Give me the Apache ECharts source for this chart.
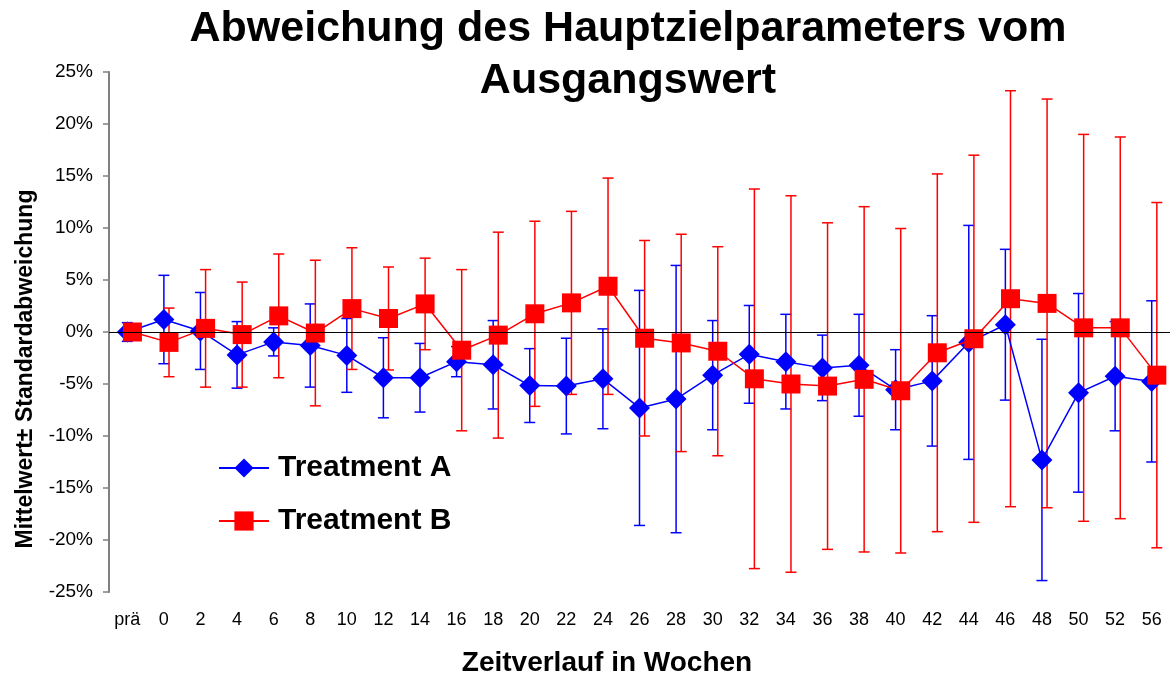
<!DOCTYPE html>
<html>
<head>
<meta charset="utf-8">
<script src="https://cdn.jsdelivr.net/npm/echarts@6/dist/echarts.min.js"></script>
<style>
html,body{margin:0;padding:0;background:#fff;}
#chart{width:1173px;height:684px;}
</style>
</head>
<body>
<div id="chart"></div>
<script>
const categories = ['prä','0','2','4','6','8','10','12','14','16','18','20','22','24','26','28','30','32','34','36','38','40','42','44','46','48','50','52','56'];
const yTicks = [-25,-20,-15,-10,-5,0,5,10,15,20,25];
// Treatment A: mean and standard deviation (%)
const meanA = [0, 1.2, 0.1, -2.2, -0.95, -1.3, -2.25, -4.4, -4.4, -2.85, -3.15, -5.15, -5.2, -4.5, -7.3, -6.45, -4.15, -2.15, -2.85, -3.45, -3.2, -5.55, -4.7, -1.0, 0.7, -12.3, -5.85, -4.25, -4.75];
const sdA   = [0.9, 4.25, 3.7, 3.2, 1.35, 4.0, 3.55, 3.85, 3.3, 1.45, 4.25, 3.55, 4.6, 4.8, 11.3, 12.85, 5.25, 4.7, 4.55, 3.15, 4.9, 3.85, 6.27, 11.25, 7.25, 11.6, 9.55, 5.25, 7.75];
// Treatment B: mean and standard deviation (%)
const meanB = [0, -1.0, 0.35, -0.25, 1.55, -0.1, 2.25, 1.3, 2.7, -1.75, -0.3, 1.75, 2.8, 4.4, -0.6, -1.05, -1.85, -4.5, -5.0, -5.2, -4.55, -5.65, -2.0, -0.65, 3.2, 2.75, 0.4, 0.4, -4.15];
const sdB   = [0.6, 3.3, 5.65, 5.05, 5.95, 7.0, 5.85, 4.95, 4.4, 7.75, 9.9, 8.9, 8.8, 10.4, 9.4, 10.45, 10.05, 18.25, 18.1, 15.7, 16.6, 15.6, 17.2, 17.65, 20.0, 19.65, 18.6, 18.35, 16.6];

const FONT = "'Liberation Sans', Arial, Helvetica, sans-serif";
const BLUE = '#0000ff', RED = '#ff0000';
const offA = 0, offB = 0.14; // small horizontal shift of series B within a category

function errSeries(name, mean, sd, off, color) {
  return {
    type: 'custom', name: name + ' SD', xAxisIndex: 1, yAxisIndex: 0, z: 1, silent: true,
    dimensions: ['x', 'm', 's'],
    encode: { x: 0, y: 1 },
    data: mean.map((m, i) => [i + off, m, sd[i]]),
    renderItem: function (params, api) {
      const x = api.value(0), m = api.value(1), s = api.value(2);
      const t = api.coord([x, m + s]);
      const b = api.coord([x, m - s]);
      const hw = 5.5;
      const st = { stroke: color, lineWidth: 1.5 };
      return { type: 'group', children: [
        { type: 'line', shape: { x1: t[0], y1: t[1], x2: b[0], y2: b[1] }, style: st },
        { type: 'line', shape: { x1: t[0] - hw, y1: t[1], x2: t[0] + hw, y2: t[1] }, style: st },
        { type: 'line', shape: { x1: b[0] - hw, y1: b[1], x2: b[0] + hw, y2: b[1] }, style: st }
      ]};
    }
  };
}

const chart = echarts.init(document.getElementById('chart'));
chart.setOption({
  animation: false,
  backgroundColor: '#ffffff',
  title: {
    text: 'Abweichung des Hauptzielparameters vom\nAusgangswert',
    left: 628, top: 3, padding: 0, textAlign: 'center',
    textStyle: { fontFamily: FONT, fontSize: 43, fontWeight: 'bold', color: '#000', lineHeight: 52 }
  },
  legend: {
    orient: 'vertical', left: 218, top: 453, padding: 0,
    itemWidth: 50, itemHeight: 24, itemGap: 23,
    data: ['Treatment A', 'Treatment B'],
    textStyle: { fontFamily: FONT, fontSize: 30, fontWeight: 'bold', color: '#000', padding: [0, 0, 0, 4] }
  },
  grid: { left: 109, right: 3, top: 72, bottom: 92 },
  xAxis: [
    {
      type: 'category', data: categories, boundaryGap: true,
      axisLine: { show: false }, axisTick: { show: false }, splitLine: { show: false },
      axisLabel: { fontFamily: FONT, fontSize: 18, color: '#000', margin: 19, interval: 0 },
      name: 'Zeitverlauf in Wochen', nameLocation: 'middle', nameGap: 57,
      nameTextStyle: { fontFamily: FONT, fontSize: 28, fontWeight: 'bold', color: '#000', padding: [0, 65, 0, 0] }
    },
    {
      type: 'value', min: -0.5, max: 28.5, show: false
    }
  ],
  yAxis: {
    type: 'value', min: -25, max: 25, interval: 5,
    axisLine: { show: true, onZero: false, lineStyle: { color: '#808080', width: 2 } },
    axisTick: { show: true, length: 6, lineStyle: { color: '#808080', width: 1.5 } },
    splitLine: { show: false },
    axisLabel: { fontFamily: FONT, fontSize: 19, color: '#000', margin: 16, formatter: v => v + '%' },
    name: 'Mittelwert± Standardabweichung', nameLocation: 'middle', nameRotate: 90, nameGap: 72,
    nameTextStyle: { fontFamily: FONT, fontSize: 23, fontWeight: 'bold', color: '#000', padding: [0, 74, 0, 0] }
  },
  series: [
    errSeries('Treatment A', meanA, sdA, offA, BLUE),
    errSeries('Treatment B', meanB, sdB, offB, RED),
    {
      name: 'Treatment A', type: 'line', xAxisIndex: 1, z: 3,
      data: meanA.map((m, i) => [i + offA, m]),
      symbol: 'diamond', symbolSize: 21,
      lineStyle: { color: BLUE, width: 1.5 }, itemStyle: { color: BLUE },
      markLine: {
        silent: true, symbol: 'none', label: { show: false },
        lineStyle: { color: '#000', width: 1, type: 'solid' },
        data: [{ yAxis: 0 }]
      }
    },
    {
      name: 'Treatment B', type: 'line', xAxisIndex: 1, z: 4,
      data: meanB.map((m, i) => [i + offB, m]),
      symbol: 'rect', symbolSize: 19,
      lineStyle: { color: RED, width: 1.5 }, itemStyle: { color: RED }
    }
  ]
});
</script>
</body>
</html>
